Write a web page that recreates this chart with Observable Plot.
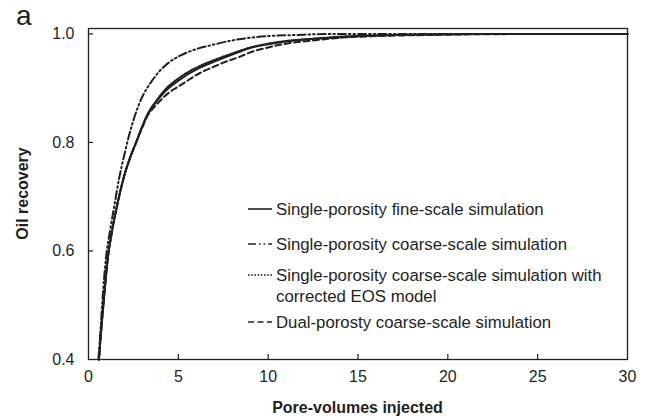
<!DOCTYPE html>
<html>
<head>
<meta charset="utf-8">
<script src="https://cdn.jsdelivr.net/npm/d3@7"></script>
<script src="https://cdn.jsdelivr.net/npm/@observablehq/plot@0.6"></script>
<style>
  body { margin: 0; background: #fff; }
  #chart { position: relative; width: 650px; height: 417px; }
  #chart svg { font-family: "Liberation Sans", Arial, sans-serif; }
</style>
</head>
<body>
<div id="chart"></div>
<script>
// Oil recovery vs. pore-volumes injected, four simulation runs: [PV, recovery]
const fineScale = [
  [0.58, 0.40], [0.72, 0.46], [0.88, 0.52], [1.05, 0.58], [1.3, 0.635], [1.6, 0.685],
  [2.0, 0.74], [2.35, 0.775], [2.65, 0.80], [3.0, 0.83], [3.3, 0.852], [3.8, 0.876],
  [4.2, 0.892], [5.0, 0.914], [6.2, 0.938], [7.0, 0.949], [8.0, 0.962], [9.0, 0.974],
  [10.0, 0.981], [11.0, 0.986], [12.5, 0.991], [14, 0.994], [16, 0.997], [19, 0.999],
  [22, 1.0], [30, 1.0]
];
const coarseScale = [
  [0.55, 0.40], [0.68, 0.46], [0.82, 0.53], [1.0, 0.595], [1.2, 0.638], [1.41, 0.678],
  [1.7, 0.733], [2.0, 0.778], [2.25, 0.812], [2.6, 0.851], [2.95, 0.881], [3.5, 0.912],
  [4.0, 0.933], [4.5, 0.948], [5.1, 0.96], [6.0, 0.972], [6.8, 0.979], [8.0, 0.988],
  [9.0, 0.993], [10, 0.996], [11.5, 0.998], [13.6, 1.0], [30, 1.0]
];
const coarseCorrectedEOS = [
  [0.58, 0.40], [0.72, 0.46], [0.88, 0.52], [1.05, 0.58], [1.3, 0.635], [1.6, 0.685],
  [2.0, 0.74], [2.35, 0.775], [2.65, 0.80], [3.0, 0.83], [3.3, 0.853], [3.8, 0.878],
  [4.2, 0.895], [5.0, 0.918], [6.2, 0.941], [7.0, 0.952], [8.0, 0.964], [9.0, 0.975],
  [10, 0.982], [11, 0.987], [12.5, 0.991], [14, 0.995], [16, 0.997], [19, 0.999],
  [22, 1.0], [30, 1.0]
];
const dualPorosity = [
  [0.58, 0.40], [0.72, 0.46], [0.88, 0.52], [1.05, 0.58], [1.3, 0.635], [1.6, 0.685],
  [2.0, 0.74], [2.35, 0.775], [2.65, 0.80], [3.0, 0.828], [3.3, 0.85], [3.8, 0.87],
  [4.2, 0.884], [4.75, 0.898], [5.1, 0.905], [6.2, 0.928], [7.0, 0.94], [7.5, 0.947],
  [8.5, 0.959], [9.0, 0.966], [10, 0.975], [11, 0.982], [12.5, 0.988], [14, 0.993],
  [16, 0.996], [19, 0.998], [22, 0.9995], [30, 1.0]
];

const xTicks = [0, 5, 10, 15, 20, 25, 30];
const yTicks = [0.4, 0.6, 0.8, 1.0];

const seriesNames = [
  "Single-porosity fine-scale simulation",
  "Single-porosity coarse-scale simulation",
  "Single-porosity coarse-scale simulation with corrected EOS model",
  "Dual-porosty coarse-scale simulation"
];
const seriesData = [fineScale, coarseScale, coarseCorrectedEOS, dualPorosity];
const seriesDash = [null, "8,3,1.6,3,1.6,3", "1.6,1.6", "6,3.5"];

const ink = "#231f20";
const W = 650, H = 417;
const mL = 88, mR = 23, mT = 28, mB = 58;
const plotW = W - mL - mR, plotH = H - mT - mB;

const rows = seriesData.flatMap((pts, i) =>
  pts.map(([pv, rec]) => ({series: seriesNames[i], pv, rec})));

const lineMarks = seriesNames.map((name, i) =>
  Plot.line(rows.filter(d => d.series === name), {
    x: "pv", y: "rec",
    stroke: ink, strokeWidth: 2,
    strokeDasharray: seriesDash[i],
    curve: "monotone-x"
  }));

const chart = Plot.plot({
  width: W, height: H,
  marginLeft: mL, marginRight: mR, marginTop: mT, marginBottom: mB,
  style: {fontFamily: "Liberation Sans, Arial, sans-serif", fontSize: "16px", color: ink, background: "#fff"},
  x: {domain: [0, 30]},
  y: {domain: [0.4, 1.01]},
  marks: [
    Plot.frame({stroke: ink, strokeWidth: 1.3}),
    // inward-pointing ticks
    Plot.ruleX(xTicks.slice(1, -1), {x: d => d, insetTop: plotH - 5, stroke: ink, strokeWidth: 1.2}),
    Plot.ruleY(yTicks.slice(1), {y: d => d, insetRight: plotW - 5, stroke: ink, strokeWidth: 1.2}),
    Plot.axisX({ticks: xTicks, tickSize: 0, tickPadding: 11, label: null, fontSize: 16, fill: ink}),
    Plot.axisY({ticks: yTicks, tickSize: 0, tickPadding: 14, tickFormat: d3.format(".1f"), label: null, fontSize: 16, fill: ink}),
    ...lineMarks
  ]
});

document.getElementById("chart").appendChild(chart);

// Titles, panel letter and legend
const svg = d3.select(chart);
const font = "Liberation Sans, Arial, sans-serif";

svg.append("text")
  .attr("x", 16).attr("y", 25)
  .attr("text-anchor", "start")
  .attr("font-family", font).attr("font-size", 28).attr("fill", ink)
  .text("a");

svg.append("text")
  .attr("x", mL + plotW / 2).attr("y", 413)
  .attr("text-anchor", "middle")
  .attr("font-family", font).attr("font-size", 16).attr("font-weight", "bold").attr("fill", ink)
  .text("Pore-volumes injected");

svg.append("text")
  .attr("transform", `translate(28,${mT + plotH / 2}) rotate(-90)`)
  .attr("text-anchor", "middle")
  .attr("font-family", font).attr("font-size", 16).attr("font-weight", "bold").attr("fill", ink)
  .text("Oil recovery");

const legendItems = [
  {lines: [seriesNames[0]], y: 209},
  {lines: [seriesNames[1]], y: 244},
  {lines: ["Single-porosity coarse-scale simulation with", "corrected EOS model"], y: 275},
  {lines: [seriesNames[3]], y: 322}
];
const legend = svg.append("g").attr("text-anchor", "start");
legendItems.forEach((item, i) => {
  legend.append("line")
    .attr("x1", 248).attr("x2", 272)
    .attr("y1", item.y).attr("y2", item.y)
    .attr("stroke", ink).attr("stroke-width", 1.6)
    .attr("stroke-dasharray", seriesDash[i]);
  item.lines.forEach((t, j) => {
    legend.append("text")
      .attr("x", 276).attr("y", item.y + j * 21)
      .attr("dy", "0.36em")
      .attr("text-anchor", "start")
      .attr("font-family", font).attr("font-size", 16.8).attr("fill", ink)
      .text(t);
  });
});
</script>
</body>
</html>
